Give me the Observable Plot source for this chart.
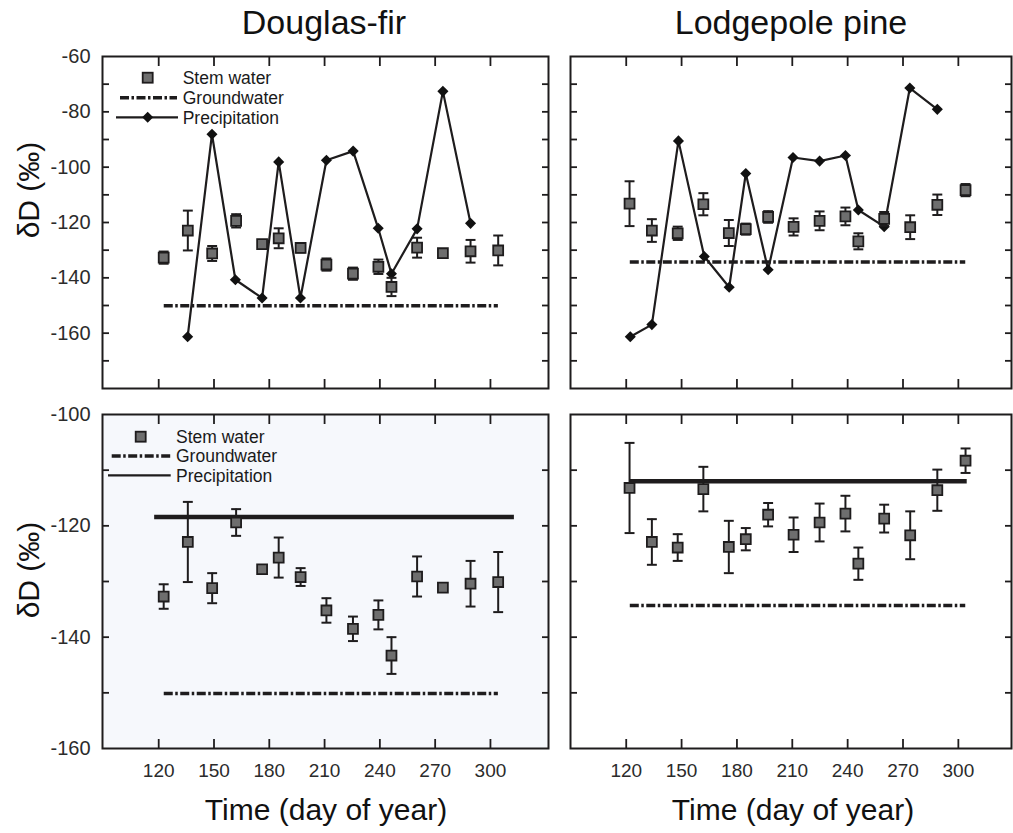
<!DOCTYPE html>
<html><head><meta charset="utf-8">
<script src="https://cdn.jsdelivr.net/npm/d3@7"></script>
<script src="https://cdn.jsdelivr.net/npm/@observablehq/plot@0.6"></script>
<style>
body{margin:0;background:#fff;}
#root{position:relative;width:1013px;height:833px;overflow:hidden;font-family:"Liberation Sans",Arial,Helvetica,sans-serif;}
#root svg{position:absolute;margin:0;overflow:visible;}
</style></head><body><div id="root"></div>
<script>
// ---------- data ----------
const xTicks = [120, 150, 180, 210, 240, 270, 300];
const yMinorTop = [-170, -160, -150, -140, -130, -120, -110, -100, -90, -80, -70];
const yLabelTop = [-160, -140, -120, -100, -80, -60];
const yMinorBottom = [-150, -140, -130, -120, -110];
const yLabelBottom = [-160, -140, -120, -100];

// Douglas-fir
const dfStemDays = [122.7, 135.8, 149.0, 162.0, 176.1, 185.1, 197.0, 211.0, 225.4, 239.2, 246.3, 260.2, 274.2, 289.2, 304.2];
const dfStemVals = [-132.7, -122.9, -131.2, -119.4, -127.8, -125.7, -129.2, -135.2, -138.5, -136.0, -143.3, -129.1, -131.1, -130.4, -130.1];
const dfStemErr  = [2.2, 7.2, 2.7, 2.4, 0, 3.6, 1.6, 2.2, 2.2, 2.6, 3.3, 3.6, 0, 4.1, 5.4];
const dfPrecipDays = [135.7, 148.9, 161.6, 176.1, 185.1, 196.9, 211.0, 225.5, 239.1, 246.3, 260.2, 274.2, 289.2];
const dfPrecipVals = [-161.3, -88.1, -140.7, -147.3, -98.1, -147.3, -97.5, -94.2, -122.1, -138.5, -122.3, -72.6, -120.3];
const dfGroundwater = -150.1;
const dfGroundwaterSpan = [123, 304.3];
const dfMeanPrecip = -118.4;
const dfMeanPrecipSpan = [117.8, 313];

// Lodgepole pine
const lpStemDays = [121.8, 133.9, 147.9, 161.8, 175.6, 184.8, 196.9, 210.7, 224.8, 238.8, 245.8, 259.8, 273.9, 288.6, 303.9];
const lpStemVals = [-113.2, -122.9, -123.9, -113.4, -123.8, -122.4, -118.0, -121.6, -119.4, -117.8, -126.8, -118.7, -121.7, -113.6, -108.3];
const lpStemErr  = [8.1, 4.1, 2.4, 4.0, 4.7, 2.0, 2.1, 3.1, 3.4, 3.2, 2.9, 2.5, 4.3, 3.7, 2.2];
const lpPrecipDays = [122.2, 133.9, 148.3, 162.3, 175.8, 184.8, 196.9, 210.4, 224.8, 238.8, 245.8, 259.8, 273.7, 288.6];
const lpPrecipVals = [-161.3, -156.9, -90.5, -132.3, -143.4, -102.3, -137.1, -96.5, -97.8, -95.8, -115.5, -121.5, -71.4, -79.1];
const lpGroundwater = -134.3;
const lpGroundwaterSpan = [122.2, 304];
const lpMeanPrecip = -112.0;
const lpMeanPrecipSpan = [121.8, 304.8];

const titles = ["Douglas-fir", "Lodgepole pine"];
const yTitle = "δD (‰)";
const xTitle = "Time (day of year)";
const legendLabels = ["Stem water", "Groundwater", "Precipitation"];

// ---------- style ----------
const INK = "#1e1c1d";
const FONT = '"Liberation Sans", Arial, Helvetica, sans-serif';
const GW_DASH = "9,2.5,2.5,2.5";
const capSymbol = {draw(ctx, size) { const w = Math.sqrt(size); ctx.moveTo(-w / 2, 0); ctx.lineTo(w / 2, 0); }};
const plainFormat = d => String(d);

const root = document.getElementById("root");

function panel(o) {
  const stem = o.stemDays.map((d, i) => ({day: d, v: o.stemVals[i], e: o.stemErr[i]}));
  const errs = stem.filter(d => d.e > 0);
  const precip = o.precipDays ? o.precipDays.map((d, i) => ({day: d, v: o.precipVals[i]})) : null;
  const gw = [{y: o.gw, x1: o.gwSpan[0], x2: o.gwSpan[1]}];
  const mp = o.meanP != null ? [{y: o.meanP, x1: o.meanSpan[0], x2: o.meanSpan[1]}] : null;
  const marks = [
    o.bg ? Plot.frame({fill: o.bg, stroke: "none"}) : null,
    Plot.ruleY(gw, {y: "y", x1: "x1", x2: "x2", stroke: INK, strokeWidth: 3.5, strokeDasharray: GW_DASH}),
    mp ? Plot.ruleY(mp, {y: "y", x1: "x1", x2: "x2", stroke: INK, strokeWidth: 4.5}) : null,
    precip ? Plot.line(precip, {x: "day", y: "v", stroke: INK, strokeWidth: 2.2}) : null,
    precip ? Plot.dot(precip, {x: "day", y: "v", symbol: "diamond2", r: 5, fill: "#111", stroke: "none"}) : null,
    Plot.ruleX(errs, {x: "day", y1: d => d.v - d.e, y2: d => d.v + d.e, stroke: INK, strokeWidth: 2}),
    Plot.dot(errs, {x: "day", y: d => d.v + d.e, symbol: capSymbol, r: 5.6, stroke: INK, strokeWidth: 2, fill: "none"}),
    Plot.dot(errs, {x: "day", y: d => d.v - d.e, symbol: capSymbol, r: 5.6, stroke: INK, strokeWidth: 2, fill: "none"}),
    Plot.dot(stem, {x: "day", y: "v", symbol: "square", r: 5.6, fill: "#6e6e6e", stroke: INK, strokeWidth: 1.8}),
    Plot.axisX(xTicks, {anchor: "bottom", tickSize: -9, fill: "none", stroke: INK, strokeWidth: 1.8, label: null}),
    Plot.axisX(xTicks, {anchor: "top", tickSize: -9, fill: "none", stroke: INK, strokeWidth: 1.8, label: null}),
    Plot.axisY(o.yMinor, {anchor: "left", tickSize: -7, fill: "none", stroke: INK, strokeWidth: 1.8, label: null}),
    Plot.axisY(o.yMinor, {anchor: "right", tickSize: -7, fill: "none", stroke: INK, strokeWidth: 1.8, label: null}),
    o.showY ? Plot.axisY(o.yLabels, {anchor: "left", tickSize: 0, tickPadding: 12, tickFormat: plainFormat, fill: "#2b2b2b", fontSize: 20, label: null}) : null,
    o.showX ? Plot.axisX(xTicks, {anchor: "bottom", tickSize: 0, tickPadding: 15, tickFormat: plainFormat, fill: "#2b2b2b", fontSize: 19, label: null}) : null,
    Plot.frame({stroke: INK, strokeWidth: 2})
  ].filter(Boolean);
  const svg = Plot.plot({
    width: o.width, height: o.height,
    marginLeft: o.ml, marginRight: o.mr, marginTop: o.mt, marginBottom: o.mb,
    x: {domain: o.xDomain, axis: null},
    y: {domain: o.yDomain, axis: null},
    style: {fontFamily: FONT, fontSize: "19px", background: "transparent", overflow: "visible"},
    marks
  });
  svg.style.left = o.left + "px";
  svg.style.top = o.top + "px";
  root.appendChild(svg);
}

const leftX = [89.5, 331.5];
const rightX = [89.8, 328.8];

panel({left: 0, top: 0, width: 555, height: 400, ml: 102, mr: 7, mt: 56, mb: 12,
  xDomain: leftX, yDomain: [-180, -60], yMinor: yMinorTop, yLabels: yLabelTop, showY: true, showX: false,
  stemDays: dfStemDays, stemVals: dfStemVals, stemErr: dfStemErr,
  precipDays: dfPrecipDays, precipVals: dfPrecipVals, gw: dfGroundwater, gwSpan: dfGroundwaterSpan});

panel({left: 560, top: 0, width: 453, height: 400, ml: 10, mr: 2, mt: 56, mb: 12,
  xDomain: rightX, yDomain: [-180, -60], yMinor: yMinorTop, yLabels: yLabelTop, showY: false, showX: false,
  stemDays: lpStemDays, stemVals: lpStemVals, stemErr: lpStemErr,
  precipDays: lpPrecipDays, precipVals: lpPrecipVals, gw: lpGroundwater, gwSpan: lpGroundwaterSpan});

panel({left: 0, top: 400, width: 555, height: 433, ml: 102, mr: 7, mt: 14, mb: 85, bg: "#f6f8fc",
  xDomain: leftX, yDomain: [-160, -100], yMinor: yMinorBottom, yLabels: yLabelBottom, showY: true, showX: true,
  stemDays: dfStemDays, stemVals: dfStemVals, stemErr: dfStemErr,
  gw: dfGroundwater, gwSpan: dfGroundwaterSpan, meanP: dfMeanPrecip, meanSpan: dfMeanPrecipSpan});

panel({left: 560, top: 400, width: 453, height: 433, ml: 10, mr: 2, mt: 14, mb: 85,
  xDomain: rightX, yDomain: [-160, -100], yMinor: yMinorBottom, yLabels: yLabelBottom, showY: false, showX: true,
  stemDays: lpStemDays, stemVals: lpStemVals, stemErr: lpStemErr,
  gw: lpGroundwater, gwSpan: lpGroundwaterSpan, meanP: lpMeanPrecip, meanSpan: lpMeanPrecipSpan});

// ---------- titles, axis titles and legends ----------
const ov = d3.select(root).append("svg")
  .attr("width", 1013).attr("height", 833)
  .style("left", "0px").style("top", "0px").style("pointer-events", "none")
  .attr("font-family", FONT).attr("fill", "#111");

ov.append("text").attr("x", 324).attr("y", 34).attr("text-anchor", "middle").attr("font-size", 34).text(titles[0]);
ov.append("text").attr("x", 791).attr("y", 34).attr("text-anchor", "middle").attr("font-size", 34).text(titles[1]);

[[28, 190], [28, 570]].forEach(([x, y]) => {
  ov.append("text").attr("transform", `translate(${x},${y}) rotate(-90)`)
    .attr("text-anchor", "middle").attr("dy", "0.35em").attr("font-size", 30).text(yTitle);
});
[326, 793].forEach(x => {
  ov.append("text").attr("x", x).attr("y", 820).attr("text-anchor", "middle").attr("font-size", 30).text(xTitle);
});

function legend(o) {
  const g = ov.append("g");
  g.append("rect").attr("x", o.sq - 5).attr("y", o.rows[0] - 5).attr("width", 10).attr("height", 10)
    .attr("fill", "#6e6e6e").attr("stroke", INK).attr("stroke-width", 1.8);
  g.append("line").attr("x1", o.gw[0]).attr("x2", o.gw[1]).attr("y1", o.rows[1]).attr("y2", o.rows[1])
    .attr("stroke", INK).attr("stroke-width", 3.5).attr("stroke-dasharray", GW_DASH);
  g.append("line").attr("x1", o.pr[0]).attr("x2", o.pr[1]).attr("y1", o.rows[2]).attr("y2", o.rows[2])
    .attr("stroke", INK).attr("stroke-width", 2.2);
  if (o.diamond) {
    const c = o.sq, y = o.rows[2], r = 5.5;
    g.append("path").attr("d", `M${c},${y - r}L${c + r},${y}L${c},${y + r}L${c - r},${y}Z`).attr("fill", "#111");
  }
  legendLabels.forEach((t, i) => {
    g.append("text").attr("x", o.tx).attr("y", o.rows[i]).attr("dy", "0.36em")
      .attr("font-size", 17.5).attr("fill", "#1a1a1a").text(t);
  });
}
legend({sq: 147.7, rows: [77.7, 97.7, 117.3], gw: [120, 177], pr: [116, 178], tx: 182.7, diamond: true});
legend({sq: 140.7, rows: [436.7, 456, 475.3], gw: [111.7, 170.7], pr: [108, 170.7], tx: 176, diamond: false});
</script></body></html>
